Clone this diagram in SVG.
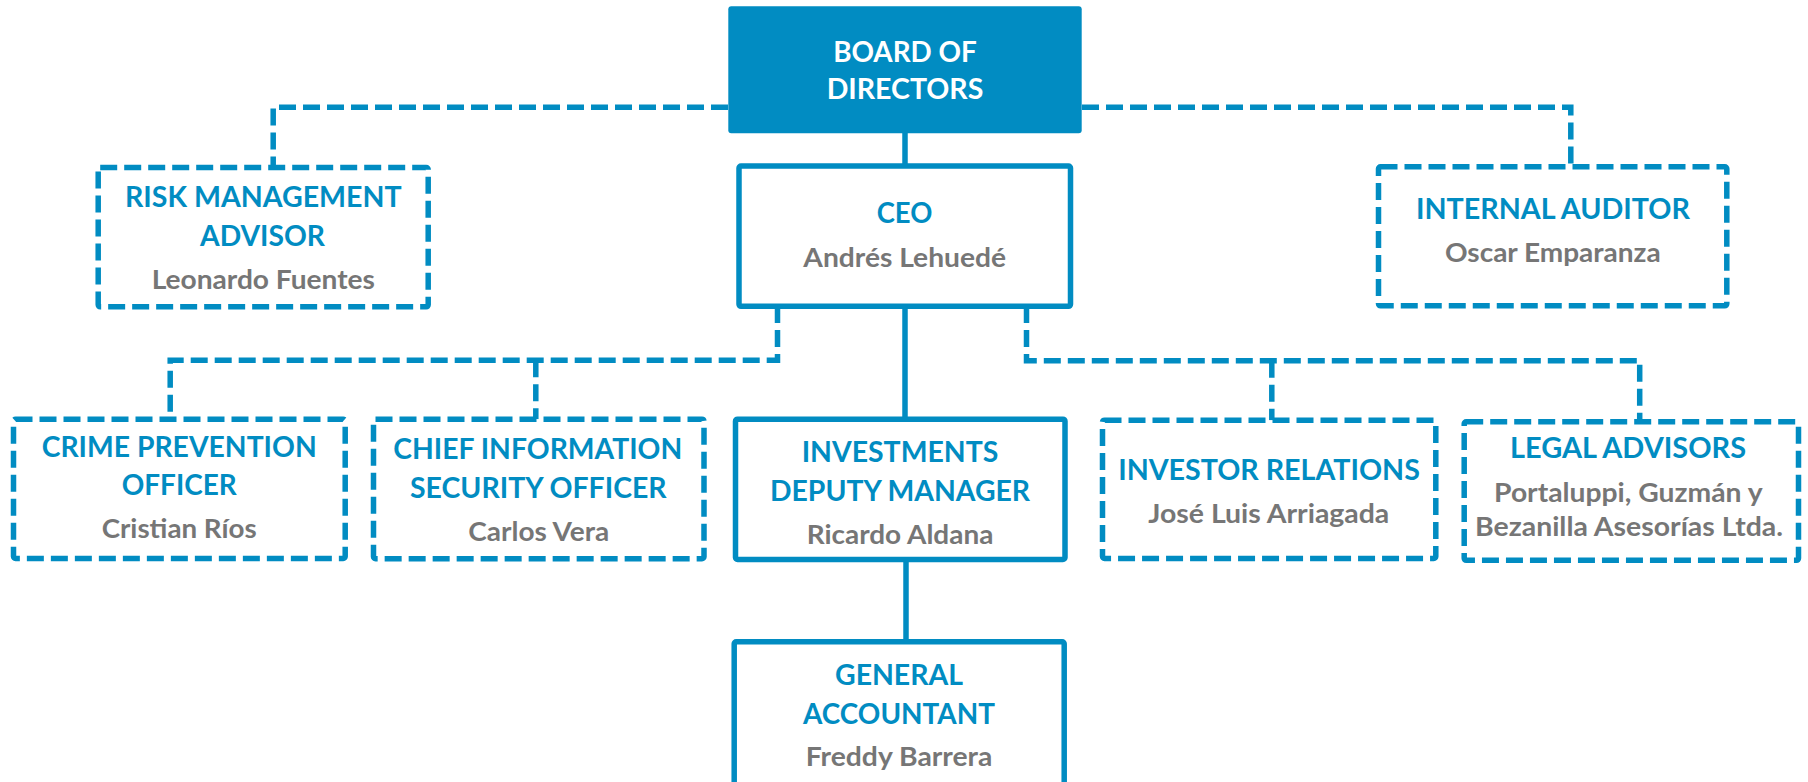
<svg xmlns="http://www.w3.org/2000/svg" width="1808" height="782" viewBox="0 0 1808 782">
<style>
.bs{fill:#fff;stroke:#018cc2;stroke-width:5.5}
.bd{fill:#fff;stroke:#018cc2;stroke-width:5.5;stroke-dasharray:17 7}
.cs{fill:none;stroke:#018cc2;stroke-width:5.5}
.cd{fill:none;stroke:#018cc2;stroke-width:5.5;stroke-dasharray:17 7}
text{font-family:Lato,"Open Sans","Liberation Sans",sans-serif;font-weight:700;text-anchor:middle}
.t{font-size:29px;fill:#018cc2}
.w{font-size:29px;fill:#fff}
.n{font-size:27px;fill:#767676}
</style>
<rect width="1808" height="782" fill="#fff"/>
<g id="connectors">
<path class="cs" d="M905,133 V166"/>
<path class="cs" d="M905,306 V419"/>
<path class="cs" d="M906,559 V642"/>
<path class="cd" d="M728,107.2 H273.2 V167.5"/>
<path class="cd" d="M1082,107.2 H1570.8 V166.8"/>
<path class="cd" d="M777.5,306 V360.2 H170.2 V419.2"/>
<path class="cd" d="M535.8,360.2 V419.2"/>
<path class="cd" d="M1026.5,306 V360.7 H1639.7 V421.8"/>
<path class="cd" d="M1271.8,360.7 V420.2"/>
</g>
<g id="board">
<rect x="728.3" y="6.3" width="353.4" height="127" rx="3" fill="#018cc2"/>
<text class="w" x="905" y="61.7" textLength="143.7" lengthAdjust="spacingAndGlyphs">BOARD OF</text>
<text class="w" x="905" y="99.3" textLength="156.7" lengthAdjust="spacingAndGlyphs">DIRECTORS</text>
</g>
<g id="ceo">
<rect class="bs" x="739" y="166" width="331.5" height="140.3" rx="2"/>
<text class="t" x="904.5" y="222.7" textLength="55.6" lengthAdjust="spacingAndGlyphs">CEO</text>
<text class="n" x="904.7" y="266.7" textLength="202.7" lengthAdjust="spacingAndGlyphs">Andrés Lehuedé</text>
</g>
<g id="risk">
<rect class="bd" x="98.2" y="167.5" width="330" height="139.3" rx="2"/>
<text class="t" x="263.3" y="207.3" textLength="276.7" lengthAdjust="spacingAndGlyphs">RISK MANAGEMENT</text>
<text class="t" x="262.5" y="245.7" textLength="125" lengthAdjust="spacingAndGlyphs">ADVISOR</text>
<text class="n" x="263.3" y="289" textLength="223.3" lengthAdjust="spacingAndGlyphs">Leonardo Fuentes</text>
</g>
<g id="auditor">
<rect class="bd" x="1378.5" y="166.8" width="348.3" height="139" rx="2"/>
<text class="t" x="1553" y="219.3" textLength="274" lengthAdjust="spacingAndGlyphs">INTERNAL AUDITOR</text>
<text class="n" x="1552.8" y="262.3" textLength="215.7" lengthAdjust="spacingAndGlyphs">Oscar Emparanza</text>
</g>
<g id="crime">
<rect class="bd" x="13.5" y="419.2" width="331.7" height="139.3" rx="2"/>
<text class="t" x="179.2" y="456.7" textLength="275" lengthAdjust="spacingAndGlyphs">CRIME PREVENTION</text>
<text class="t" x="179.2" y="495" textLength="115" lengthAdjust="spacingAndGlyphs">OFFICER</text>
<text class="n" x="179.2" y="538.3" textLength="155" lengthAdjust="spacingAndGlyphs">Cristian Ríos</text>
</g>
<g id="ciso">
<rect class="bd" x="373.5" y="419.2" width="330.5" height="139.5" rx="2"/>
<text class="t" x="537.8" y="459" textLength="289" lengthAdjust="spacingAndGlyphs">CHIEF INFORMATION</text>
<text class="t" x="538.3" y="498.3" textLength="256.7" lengthAdjust="spacingAndGlyphs">SECURITY OFFICER</text>
<text class="n" x="538.8" y="541.2" textLength="141" lengthAdjust="spacingAndGlyphs">Carlos Vera</text>
</g>
<g id="investments">
<rect class="bs" x="735.5" y="419.2" width="329.5" height="140.3" rx="2"/>
<text class="t" x="900" y="462.3" textLength="196.7" lengthAdjust="spacingAndGlyphs">INVESTMENTS</text>
<text class="t" x="900" y="500.7" textLength="260" lengthAdjust="spacingAndGlyphs">DEPUTY MANAGER</text>
<text class="n" x="900" y="544" textLength="186.7" lengthAdjust="spacingAndGlyphs">Ricardo Aldana</text>
</g>
<g id="investor">
<rect class="bd" x="1102.5" y="420.2" width="333.3" height="138.3" rx="2"/>
<text class="t" x="1269" y="480" textLength="301.7" lengthAdjust="spacingAndGlyphs">INVESTOR RELATIONS</text>
<text class="n" x="1268.8" y="523.3" textLength="241" lengthAdjust="spacingAndGlyphs">José Luis Arriagada</text>
</g>
<g id="legal">
<rect class="bd" x="1464.2" y="421.8" width="334.3" height="138.5" rx="2"/>
<text class="t" x="1628" y="458.3" textLength="236" lengthAdjust="spacingAndGlyphs">LEGAL ADVISORS</text>
<text class="n" x="1628.3" y="501.7" textLength="268.5" lengthAdjust="spacingAndGlyphs">Portaluppi, Guzmán y</text>
<text class="n" x="1629" y="535.7" textLength="308" lengthAdjust="spacingAndGlyphs">Bezanilla Asesorías Ltda.</text>
</g>
<g id="accountant">
<rect class="bs" x="734.2" y="641.8" width="330" height="160" rx="2"/>
<text class="t" x="899" y="685" textLength="128" lengthAdjust="spacingAndGlyphs">GENERAL</text>
<text class="t" x="899" y="724" textLength="192" lengthAdjust="spacingAndGlyphs">ACCOUNTANT</text>
<text class="n" x="899" y="766" textLength="186.7" lengthAdjust="spacingAndGlyphs">Freddy Barrera</text>
</g>
</svg>
